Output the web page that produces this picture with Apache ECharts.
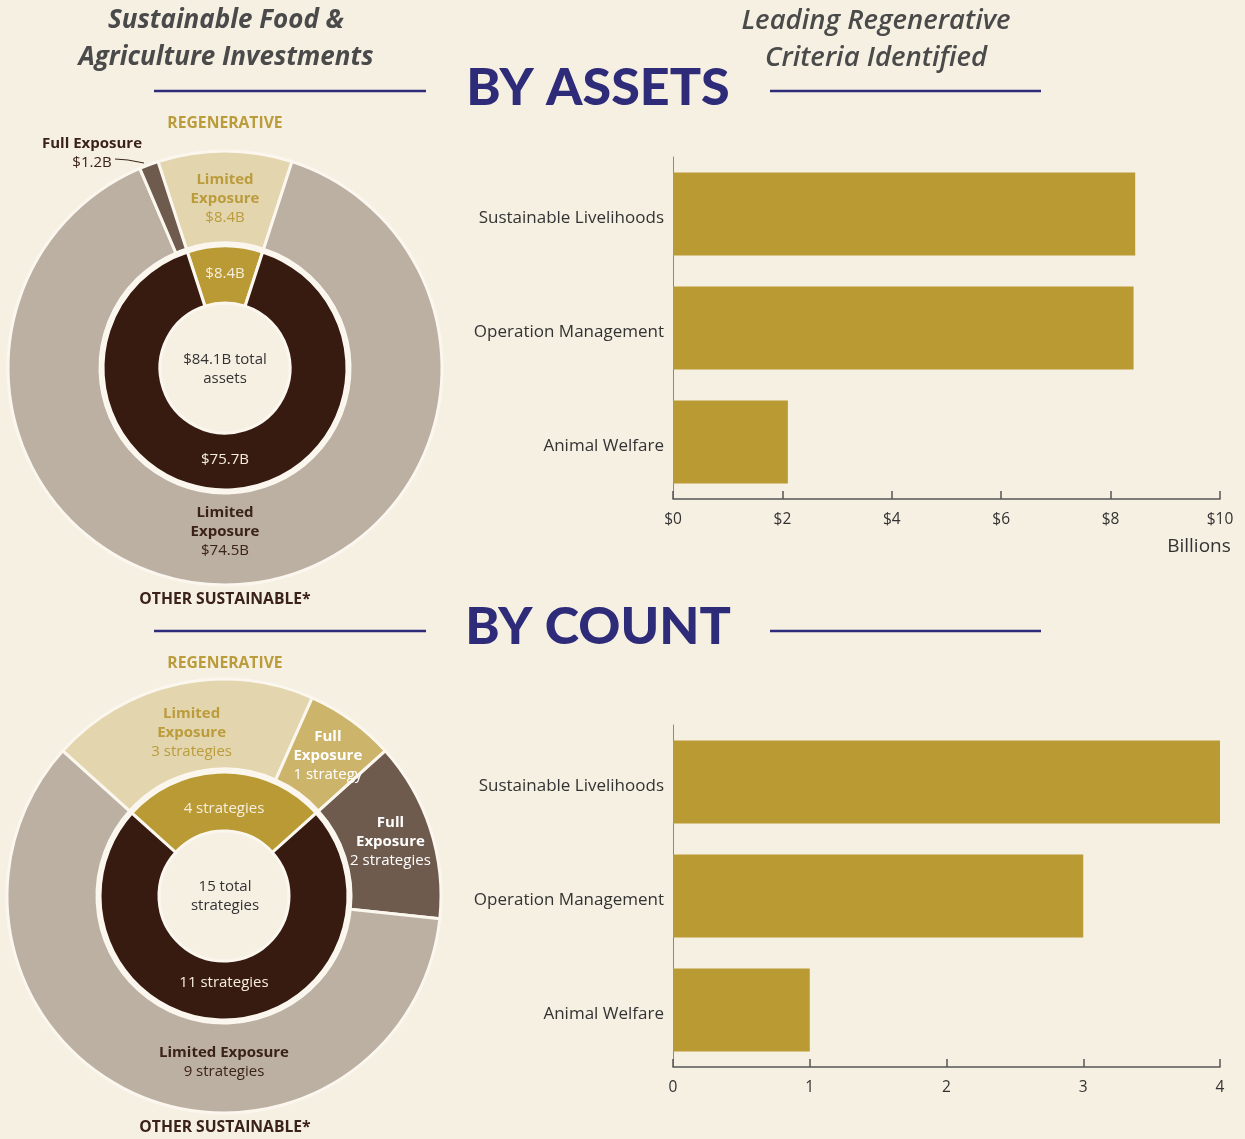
<!DOCTYPE html>
<html>
<head>
<meta charset="utf-8">
<script src="https://cdn.jsdelivr.net/npm/echarts@6/dist/echarts.min.js"></script>
<style>
  html, body { margin: 0; padding: 0; background: #f6f0e3; }
  #chart { width: 1245px; height: 1139px; }
</style>
</head>
<body>
<div id="chart"></div>
<script>
// ---- data ----
const assetInnerNames = ['Regenerative', 'Other Sustainable'];
const assetInnerValues = [8.4, 75.7];
const assetOuterNames = ['Limited Exposure', 'Limited Exposure', 'Full Exposure'];
const assetOuterValues = [8.4, 74.5, 1.2];

const countInnerNames = ['Regenerative', 'Other Sustainable'];
const countInnerValues = [4, 11];
const countOuterNames = ['Limited Exposure', 'Full Exposure', 'Full Exposure', 'Limited Exposure'];
const countOuterValues = [3, 1, 2, 9];

const criteria = ['Sustainable Livelihoods', 'Operation Management', 'Animal Welfare'];
const criteriaAssets = [8.45, 8.42, 2.1];
const criteriaCounts = [4, 3, 1];

const assetAxis = { min: 0, max: 10, interval: 2, prefix: '$' };
const countAxis = { min: 0, max: 4, interval: 1, prefix: '' };

// ---- palette ----
const BG = '#f6f0e3';
const NAVY = '#2e2b78';
const GOLD = '#b99a35';
const GOLD_TEXT = '#bb9c3c';
const LIGHT_GOLD = '#e3d5ad';
const MID_GOLD = '#cdb46b';
const DARK = '#371b11';
const DARK_TEXT = '#3b2218';
const GREY = '#bcb0a3';
const GREY_BROWN = '#6e5b4d';
const CREAM_TEXT = '#f6eedd';
const BORDER = '#fbf7ef';
const FONT = 'Open Sans';

const fmtB = v => '$' + (+v.toFixed(1)) + 'B';
const fmtS = v => v + (v === 1 ? ' strategy' : ' strategies');
const sum = a => a.reduce((s, v) => s + v, 0);

function richFor(color) {
  return {
    n: { fontFamily: FONT, fontSize: 15, fontWeight: 700, lineHeight: 19, color: color },
    v: { fontFamily: FONT, fontSize: 15, fontWeight: 400, lineHeight: 19, color: color }
  };
}
function sliceLabel(name, valueText, wrap) {
  const nm = wrap ? name.split(' ').join('}\n{n|') : name;
  return '{n|' + nm + '}\n{v|' + valueText + '}';
}

// ---- pie rings ----
function ringSeries(cfg) {
  const total = sum(cfg.innerValues);
  const startAngle = 90 + cfg.innerValues[0] / total * 180;
  const inner = {
    type: 'pie', center: cfg.center, radius: [65, cfg.innerR],
    startAngle: startAngle, clockwise: true, avoidLabelOverlap: false,
    silent: true, animation: false,
    itemStyle: { borderColor: BORDER, borderWidth: 3 },
    label: { show: true, position: 'inside', fontFamily: FONT, fontSize: 15, color: CREAM_TEXT,
      formatter: p => cfg.innerFmt(p.value) },
    labelLine: { show: false },
    labelLayout: p => ({ dy: cfg.innerDy[p.dataIndex] }),
    data: cfg.innerValues.map((v, i) => ({
      name: cfg.innerNames[i], value: v,
      itemStyle: { color: [GOLD, DARK][i] }
    }))
  };
  const outer = {
    type: 'pie', center: cfg.center, radius: [cfg.innerR + 3, 217],
    startAngle: startAngle, clockwise: true, avoidLabelOverlap: false,
    silent: true, animation: false,
    itemStyle: { borderColor: BORDER, borderWidth: 3 },
    labelLayout: cfg.outerLayout,
    data: cfg.outerValues.map((v, i) => {
      const st = cfg.outerStyle[i];
      return {
        name: cfg.outerNames[i], value: v,
        itemStyle: { color: st.color },
        label: {
          show: true, position: st.outside ? 'outside' : 'inside',
          formatter: sliceLabel(cfg.outerNames[i], cfg.innerFmt(v), st.wrap),
          rich: richFor(st.text)
        },
        labelLine: st.outside
          ? { show: true, length: 6, length2: 20, lineStyle: { color: DARK_TEXT, width: 1 } }
          : { show: false }
      };
    })
  };
  return [inner, outer];
}

const assetRing = ringSeries({
  center: [225, 368], innerR: 122, innerDy: [2, -5],
  innerNames: assetInnerNames, innerValues: assetInnerValues, innerFmt: fmtB,
  outerNames: assetOuterNames, outerValues: assetOuterValues,
  outerStyle: [
    { color: LIGHT_GOLD, text: GOLD_TEXT, wrap: true },
    { color: GREY, text: DARK_TEXT, wrap: true },
    { color: GREY_BROWN, text: DARK_TEXT, wrap: false, outside: true }
  ],
  outerLayout: p => {
    if (p.dataIndex === 2) return { x: 92, y: 153, align: 'center', verticalAlign: 'middle',
      labelLinePoints: [[115, 159], [128, 160], [144, 163]] };
    if (p.dataIndex === 1) return { x: 225, y: 532, align: 'center', verticalAlign: 'middle' };
    return { dy: 5 };
  }
});

const countRing = ringSeries({
  center: [224, 896], innerR: 124, innerDy: [10, -11],
  innerNames: countInnerNames, innerValues: countInnerValues, innerFmt: fmtS,
  outerNames: countOuterNames, outerValues: countOuterValues,
  outerStyle: [
    { color: LIGHT_GOLD, text: GOLD_TEXT, wrap: true },
    { color: MID_GOLD, text: '#ffffff', wrap: true },
    { color: GREY_BROWN, text: '#ffffff', wrap: true },
    { color: GREY, text: DARK_TEXT, wrap: false }
  ],
  outerLayout: p => {
    if (p.dataIndex === 3) return { x: 224, y: 1062, align: 'center', verticalAlign: 'middle' };
    if (p.dataIndex === 0) return { dy: 8, dx: 4 };
    if (p.dataIndex === 1) return { dy: 1, dx: 1 };
    return {};
  }
});

// ---- bar charts ----
function valueAxis(gridIndex, ax) {
  return {
    type: 'value', gridIndex: gridIndex, min: ax.min, max: ax.max, interval: ax.interval,
    axisLine: { show: true, lineStyle: { color: '#555', width: 1.5 } },
    axisTick: { show: true, inside: true, length: 8, lineStyle: { color: '#555', width: 1.5 } },
    axisLabel: { fontFamily: FONT, fontSize: 15.5, color: '#333', margin: 13,
      formatter: v => ax.prefix + v },
    splitLine: { show: false }
  };
}
function categoryAxis(gridIndex) {
  return {
    type: 'category', gridIndex: gridIndex, data: criteria, inverse: true,
    axisLine: { show: true, lineStyle: { color: '#8a8a8a', width: 1 } },
    axisTick: { show: false },
    axisLabel: { fontFamily: FONT, fontSize: 17, color: '#333', margin: 9,
      verticalAlign: 'top', lineHeight: 8 }
  };
}
function barSeries(idx, values) {
  return {
    type: 'bar', xAxisIndex: idx, yAxisIndex: idx, data: values,
    barCategoryGap: '27%', itemStyle: { color: '#b99a33' },
    silent: true, animation: false
  };
}

// ---- text and rules ----
function txt(x, y, text, font, fill, lineHeight) {
  const style = { text: text, font: font, fill: fill, align: 'center', verticalAlign: 'middle',
    textAlign: 'center', textVerticalAlign: 'middle' };
  if (lineHeight) style.lineHeight = lineHeight;
  return { type: 'text', x: x, y: y, silent: true, style: style };
}
function rule(x1, x2, y) {
  return { type: 'line', silent: true,
    shape: { x1: x1, y1: y, x2: x2, y2: y },
    style: { stroke: NAVY, lineWidth: 2.5 } };
}
const titleFont = 'italic 700 26px "' + FONT + '"';
const titleFont2 = 'italic 600 27.5px "' + FONT + '"';
const headFont = '900 52px Lato';
const groupFont = '700 15.7px "' + FONT + '"';
const centerFont = '400 15px "' + FONT + '"';

const graphics = [
  txt(226, 21, 'Sustainable Food &', titleFont, '#4a4a4a'),
  txt(226, 58, 'Agriculture Investments', titleFont, '#4a4a4a'),
  txt(876, 21, 'Leading Regenerative', titleFont2, '#4a4a4a'),
  txt(876, 58, 'Criteria Identified', titleFont2, '#4a4a4a'),
  txt(598, 88, 'BY ASSETS', headFont, NAVY),
  txt(598, 627, 'BY COUNT', headFont, NAVY),
  rule(154, 426, 91), rule(770, 1041, 91),
  rule(154, 426, 631), rule(770, 1041, 631),
  txt(225, 124, 'REGENERATIVE', groupFont, GOLD_TEXT),
  txt(225, 600, 'OTHER SUSTAINABLE*', groupFont, DARK_TEXT),
  txt(225, 664, 'REGENERATIVE', groupFont, GOLD_TEXT),
  txt(225, 1128, 'OTHER SUSTAINABLE*', groupFont, DARK_TEXT),
  txt(225, 369, fmtB(sum(assetInnerValues)) + ' total\nassets', centerFont, '#333', 19),
  txt(225, 896, sum(countInnerValues) + ' total\nstrategies', centerFont, '#333', 19),
  txt(1199, 547, 'Billions', '400 19px "' + FONT + '"', '#333')
];

const chart = echarts.init(document.getElementById('chart'), null, { renderer: 'canvas' });
chart.setOption({
  backgroundColor: BG,
  animation: false,
  textStyle: { fontFamily: FONT },
  grid: [
    { left: 673, width: 547, top: 157, height: 342, containLabel: false },
    { left: 673, width: 547, top: 725, height: 342, containLabel: false }
  ],
  xAxis: [valueAxis(0, assetAxis), valueAxis(1, countAxis)],
  yAxis: [categoryAxis(0), categoryAxis(1)],
  series: [
    barSeries(0, criteriaAssets),
    barSeries(1, criteriaCounts),
    ...assetRing,
    ...countRing
  ],
  graphic: graphics
});
</script>
</body>
</html>
